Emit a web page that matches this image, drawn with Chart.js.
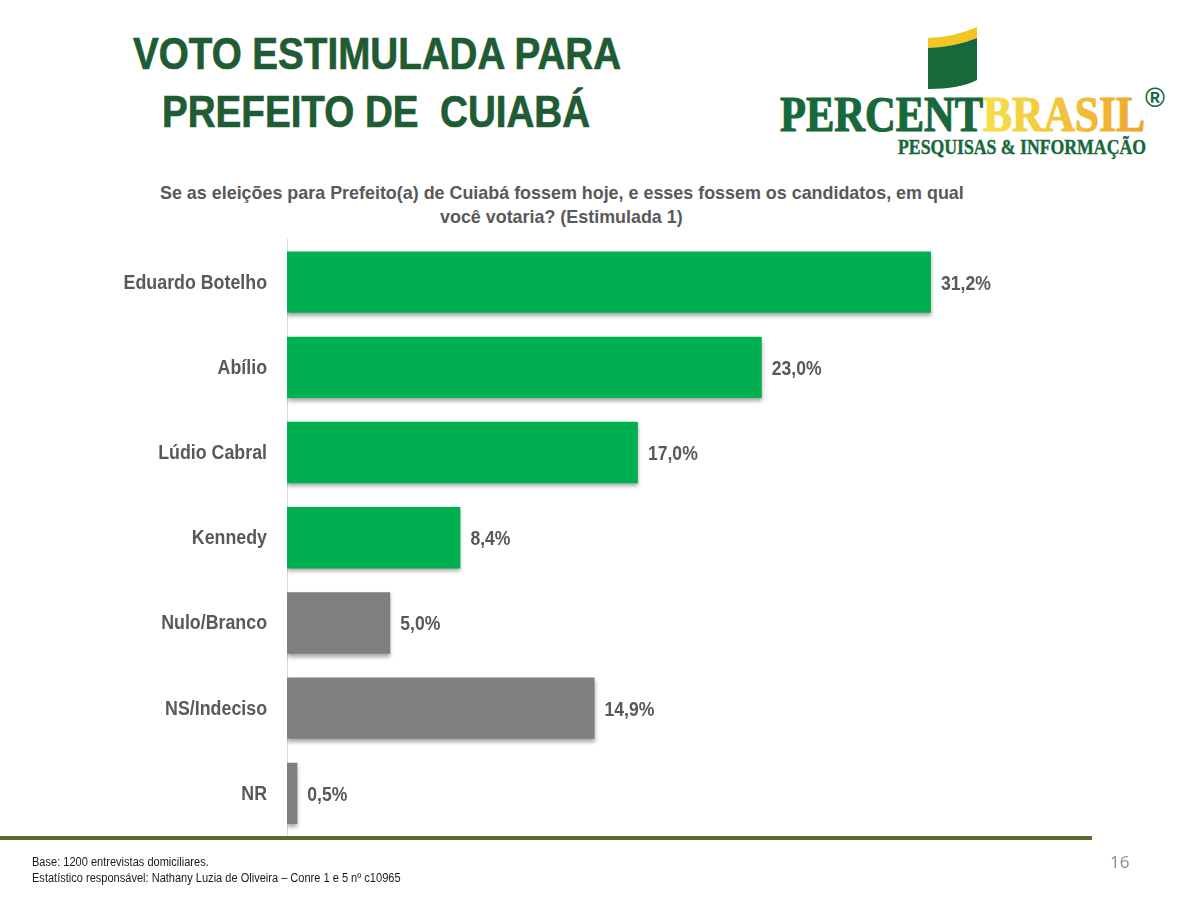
<!DOCTYPE html>
<html lang="pt">
<head>
<meta charset="utf-8">
<title>Voto estimulada para prefeito de Cuiabá</title>
<script src="https://cdn.jsdelivr.net/npm/chart.js@4/dist/chart.umd.min.js"></script>
<style>
    html, body { margin: 0; padding: 0; background: #fff; }
    #page { position: relative; width: 1200px; height: 899px; overflow: hidden; font-family: "Liberation Sans", Arial, sans-serif; }
    #chart { position: absolute; left: 0; top: 0; }
    .txt { position: absolute; white-space: nowrap; transform-origin: 0 0; }
    .title { color: #1f5b33; font-weight: bold; font-size: 44px; line-height: 50px; -webkit-text-stroke: 0.7px #1f5b33; }
    .question { color: #595959; font-weight: bold; font-size: 19px; line-height: 24px; }
    .note { color: #1a1a1a; font-size: 12px; line-height: 16px; }
    #rule { position: absolute; left: 0; top: 836px; width: 1092px; height: 4px; background: #566b2f; }
    #logo { position: absolute; left: 770px; top: 15px; }
</style>
</head>
<body>
<div id="page">
    <div class="txt title" style="left:133px;top:29px;transform:scaleX(.877)">VOTO ESTIMULADA PARA</div>
    <div class="txt title" style="left:162px;top:87px;transform:scaleX(.877)">PREFEITO DE&nbsp; CUIABÁ</div>

    <svg id="logo" width="410" height="150" viewBox="0 0 410 150">
        <defs>
            <linearGradient id="brasilFill" x1="0" y1="0" x2="1" y2="0">
                <stop offset="0" stop-color="#f5e04a"/>
                <stop offset="1" stop-color="#eea52a"/>
            </linearGradient>
        </defs>
        <path d="M158 23 Q185 22 207 12 L207 23 Q185 32 158 33 Z" fill="#f2c522"/>
        <path d="M158 33 Q185 32 207 23 L207 65 Q190 74 158 74 Z" fill="#17683a"/>
        <text x="10" y="116" font-family="Liberation Serif" font-weight="bold" font-size="50" fill="#17683a" stroke="#17683a" stroke-width="1.2" textLength="203" lengthAdjust="spacingAndGlyphs">PERCENT</text>
        <text x="213" y="116" font-family="Liberation Serif" font-weight="bold" font-size="50" fill="url(#brasilFill)" stroke="url(#brasilFill)" stroke-width="1.2" textLength="162" lengthAdjust="spacingAndGlyphs">BRASIL</text>
        <text x="128" y="139" font-family="Liberation Serif" font-weight="bold" font-size="20" fill="#17683a" stroke="#17683a" stroke-width="0.4" textLength="248" lengthAdjust="spacingAndGlyphs">PESQUISAS &amp; INFORMAÇÃO</text>
        <text x="385" y="92" font-family="Liberation Sans" font-weight="bold" font-size="27" fill="#17683a" text-anchor="middle">®</text>
    </svg>

    <div class="txt question" style="left:160px;top:181px;transform:scaleX(.942)">Se as eleições para Prefeito(a) de Cuiabá fossem hoje, e esses fossem os candidatos, em qual</div>
    <div class="txt question" style="left:440px;top:205px;transform:scaleX(.942)">você votaria? (Estimulada 1)</div>

    <canvas id="chart" width="1200" height="899"></canvas>

    <div id="rule"></div>
    <div class="txt note" style="left:32px;top:854px;transform:scaleX(.92)">Base: 1200 entrevistas domiciliares.</div>
    <div class="txt note" style="left:32px;top:870px;transform:scaleX(.92)">Estatístico responsável: Nathany Luzia de Oliveira – Conre 1 e 5 nº c10965</div>
    <div class="txt" style="left:1110px;top:850px;color:#8c8c8c;font-family:'Open Sans';font-size:17px">16</div>
</div>

<script>
const candidates = ['Eduardo Botelho', 'Abílio', 'Lúdio Cabral', 'Kennedy', 'Nulo/Branco', 'NS/Indeciso', 'NR'];
const voteShare = [31.2, 23.0, 17.0, 8.4, 5.0, 14.9, 0.5];
const barColors = ['#00b050', '#00b050', '#00b050', '#00b050', '#7f7f7f', '#7f7f7f', '#7f7f7f'];

// shadow under the bars, restored right after the dataset is drawn
const barShadow = {
    id: 'barShadow',
    beforeDatasetDraw(chart) {
        const c = chart.ctx;
        c.save();
        c.shadowColor = 'rgba(0,0,0,0.35)';
        c.shadowBlur = 4;
        c.shadowOffsetX = 0;
        c.shadowOffsetY = 3;
    },
    afterDatasetDraw(chart) {
        chart.ctx.restore();
    }
};

// category names and percents are squeezed a bit, the ticks option can't do that
const barTexts = {
    id: 'barTexts',
    afterDatasetsDraw(chart) {
        const c = chart.ctx;
        const bars = chart.getDatasetMeta(0).data;
        c.save();
        c.fillStyle = '#595959';
        c.font = 'bold 20px "Liberation Sans"';
        c.textBaseline = 'middle';
        bars.forEach((bar, i) => {
            const text = voteShare[i].toFixed(1).replace('.', ',') + '%';
            c.save();
            c.translate(bar.x + 10, bar.y + 2);
            c.scale(0.88, 1);
            c.textAlign = 'left';
            c.fillText(text, 0, 0);
            c.restore();

            c.save();
            c.translate(chart.chartArea.left - 20, bar.y + 1);
            c.scale(0.89, 1);
            c.textAlign = 'right';
            c.fillText(candidates[i], 0, 0);
            c.restore();
        });
        c.restore();
    }
};

new Chart(document.getElementById('chart'), {
    type: 'bar',
    data: {
        labels: candidates,
        datasets: [{
            data: voteShare,
            backgroundColor: barColors,
            categoryPercentage: 1,
            barPercentage: 0.72
        }]
    },
    plugins: [barShadow, barTexts],
    options: {
        indexAxis: 'y',
        responsive: false,
        animation: false,
        layout: { padding: { top: 239.5, bottom: 63, right: 87.4, left: 0 } },
        plugins: { legend: { display: false }, tooltip: { enabled: false } },
        scales: {
            x: { display: false, min: 0, max: 40 },
            y: {
                afterFit(scale) { scale.width = 287; },
                grid: { display: false, drawTicks: false },
                border: { color: '#d9d9d9', width: 1 },
                ticks: { display: false }
            }
        }
    }
});
</script>
</body>
</html>
